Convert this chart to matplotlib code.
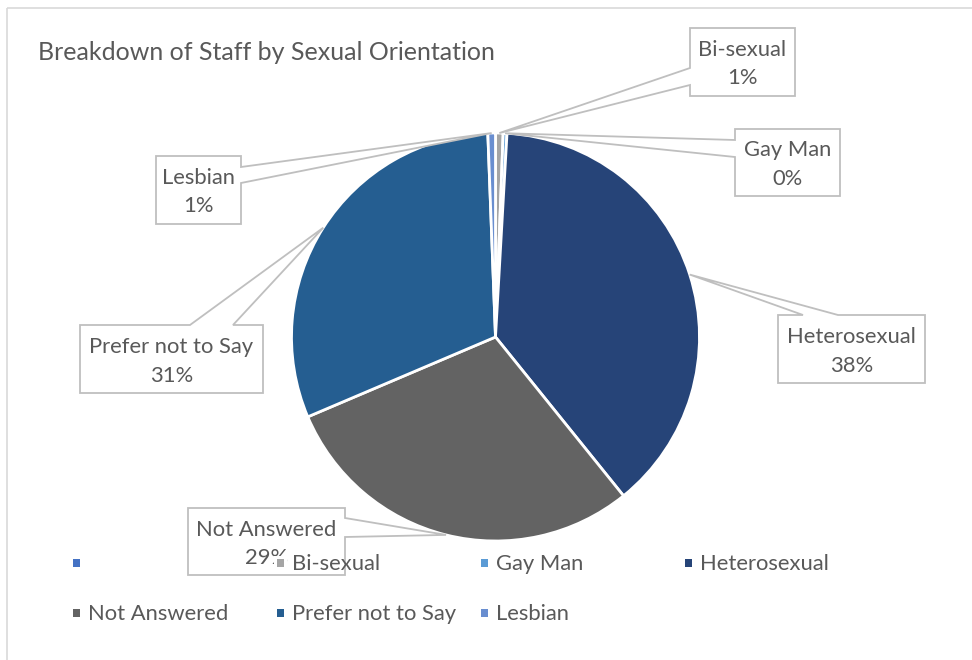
import math
import matplotlib
matplotlib.use("Agg")
import matplotlib.pyplot as plt
from matplotlib.patches import Polygon, Rectangle

# ---- data ----
categories = ["", "Bi-sexual", "Gay Man", "Heterosexual", "Not Answered", "Prefer not to Say", "Lesbian"]
values = [0, 6, 3, 383, 294, 308, 6]
colors = ["#4472C4", "#A5A5A5", "#5B9BD5", "#264478", "#636363", "#255E91", "#698ED0"]
title = "Breakdown of Staff by Sexual Orientation"

# callout layout (pixel coords): box (x0, y0, x1, y1), edge with wedge, wedge base positions
callouts = {
    "Bi-sexual": ((690, 28, 795, 96), "left", (68, 85)),
    "Gay Man": ((735, 129, 840, 196), "left", (140, 157)),
    "Heterosexual": ((778, 315, 925, 383), "top", (803, 838)),
    "Not Answered": ((188, 508, 345, 575), "right", (518, 537)),
    "Prefer not to Say": ((80, 325, 263, 393), "top", (190, 233)),
    "Lesbian": ((156, 156, 241, 224), "right", (167, 183)),
}

TXT = "#595959"
EDGE = "#BFBFBF"
FONT = "Lato"
W, H = 972, 660
LBL = 15.8

fig = plt.figure(figsize=(W / 100, H / 100), dpi=100)
ax = fig.add_axes([0, 0, 1, 1])

cx, cy, r = 495.5, 337, 204
ax.pie(values, colors=colors, center=(cx, cy), radius=r, startangle=-90,
       counterclock=True, wedgeprops=dict(edgecolor="white", linewidth=2))
ax.set_xlim(0, W)
ax.set_ylim(H, 0)
ax.set_aspect("equal")
ax.axis("off")

# chart border
ax.add_patch(Rectangle((7, 8), W, H, fill=False, edgecolor="#D9D9D9", lw=1.2, zorder=0))

ax.text(38, 53, title, fontsize=18, color=TXT, family=FONT, va="center", ha="left")

total = sum(values)
cum = 0
for cat, v in zip(categories, values):
    mid = (cum + v / 2) / total * 2 * math.pi
    cum += v
    if cat not in callouts:
        continue
    (x0, y0, x1, y1), edge, (a, b) = callouts[cat]
    tx, ty = cx + r * math.sin(mid), cy - r * math.cos(mid)
    if edge == "left":
        pts = [(x0, y0), (x1, y0), (x1, y1), (x0, y1), (x0, b), (tx, ty), (x0, a)]
    elif edge == "right":
        pts = [(x0, y0), (x1, y0), (x1, a), (tx, ty), (x1, b), (x1, y1), (x0, y1)]
    else:  # top
        pts = [(x0, y0), (a, y0), (tx, ty), (b, y0), (x1, y0), (x1, y1), (x0, y1)]
    ax.add_patch(Polygon(pts, closed=True, facecolor="white", edgecolor=EDGE, lw=1.3, zorder=3))
    pct = f"{round(v / total * 100)}%"
    mx, my = (x0 + x1) / 2, (y0 + y1) / 2
    ax.text(mx, my - 12, cat, fontsize=LBL, color=TXT, family=FONT, ha="center", va="center", zorder=4)
    ax.text(mx, my + 16.5, pct, fontsize=LBL, color=TXT, family=FONT, ha="center", va="center", zorder=4)

# legend
for i, (cat, col) in enumerate(zip(categories, colors)):
    row, c = divmod(i, 4)
    lx = 73 + c * 204
    ly = 563 + row * 50
    ax.add_patch(Rectangle((lx - 3, ly - 7), 13, 14, facecolor="white", edgecolor="none", zorder=5))
    ax.add_patch(Rectangle((lx, ly - 4), 7, 8, facecolor=col, edgecolor="none", zorder=6))
    ax.text(lx + 15, ly + 1.5, cat, fontsize=LBL, color=TXT, family=FONT, ha="left", va="center", zorder=6)

fig.savefig("out.png", dpi=100)
